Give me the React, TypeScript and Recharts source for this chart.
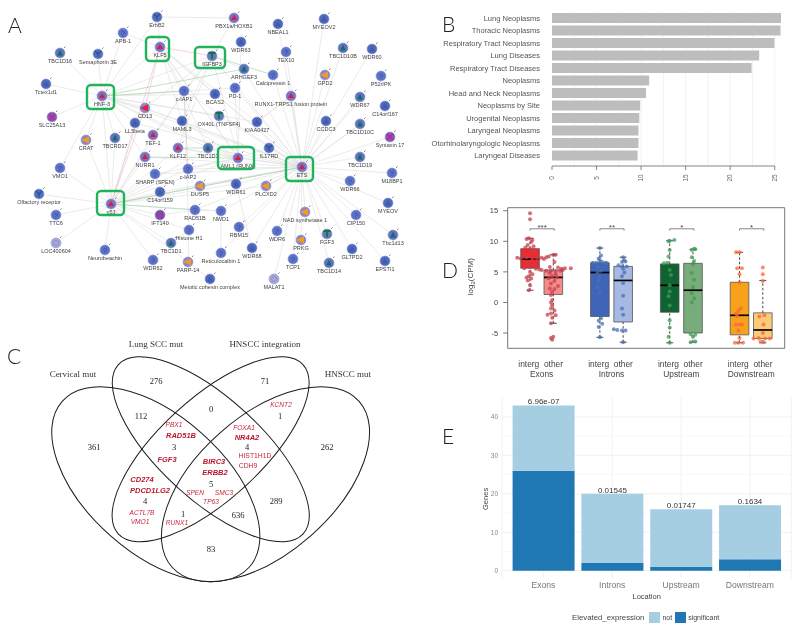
import React from 'react';
import {
  ScatterChart, Scatter, BarChart, Bar, XAxis, YAxis, CartesianGrid, ReferenceLine, ReferenceArea, LabelList, Legend,
} from 'recharts';

const SANS = '"Liberation Sans", Arial, sans-serif';
const SERIF = '"Liberation Serif", "Times New Roman", serif';

/* ---------- Panel A: network ---------- */
const networkNodes: [string, number, number, string][] = [
  ['ErbB2', 157, 17, 'y'], ['PBX1a/HOXB1', 234, 18, 'r'], ['APB-1', 123, 33, 'b'], ['NBEAL1', 278, 24, 'a'],
  ['MYEOV2', 324, 19, 'a'], ['KLF5', 160, 47, 'r'], ['IGFBP3', 212, 56, 'g'], ['WDR63', 241, 42, 'a'],
  ['TBC1D16', 60, 53, 't'], ['Semaphorin 3E', 98, 54, 'y'], ['TEX10', 286, 52, 'b'], ['TBC1D10B', 343, 48, 't'],
  ['WDR60', 372, 49, 'a'], ['ARHGEF3', 244, 69, 't'], ['Calcipressin 1', 273, 75, 'b'], ['GPD2', 325, 75, 'o'],
  ['P52rIPK', 381, 76, 'b'], ['Tctex1d1', 46, 84, 'a'], ['HNF-3', 102, 96, 'r'], ['c-IAP1', 184, 91, 'b'],
  ['BCAS2', 215, 94, 'a'], ['PD-1', 235, 88, 'b'], ['RUNX1-TRPS1 fusion protein', 291, 96, 'r'], ['WDR67', 360, 97, 't'],
  ['C14orf167', 385, 106, 'a'], ['SLC25A13', 52, 117, 'x'], ['CD13', 145, 108, 'c'], ['LL5beta', 135, 123, 'a'],
  ['OX40L (TNFSF4)', 219, 116, 'g'], ['MAML3', 182, 121, 'a'], ['KIAA0427', 257, 122, 'a'], ['CCDC3', 326, 121, 'a'],
  ['TBC1D10C', 360, 124, 't'], ['TEF-1', 153, 135, 'r'], ['CRAT', 86, 140, 'o'], ['TBCRD17', 115, 138, 't'],
  ['Syntaxin 17', 390, 137, 'x'], ['KLF12', 178, 148, 'r'], ['TBC1D1', 208, 148, 't'], ['AML1 (RUNX)', 238, 158, 'r'],
  ['IL17RD', 269, 148, 'y'], ['NURR1', 145, 157, 'r'], ['ETS', 302, 167, 'r'], ['TBC1D19', 360, 157, 't'],
  ['VMO1', 60, 168, 'b'], ['SHARP (SPEN)', 155, 174, 'b'], ['c-IAP2', 188, 169, 'b'], ['M18BP1', 392, 173, 'b'],
  ['WDR66', 350, 181, 'b'], ['DUSP5', 200, 186, 'o'], ['WDR61', 236, 184, 'a'], ['PLCXD2', 266, 186, 'o'],
  ['C14orf159', 160, 192, 'a'], ['Olfactory receptor', 39, 194, 'y'], ['p53', 111, 204, 'r'], ['MYEOV', 388, 203, 'a'],
  ['IFT140', 160, 215, 'h'], ['RAD51B', 195, 210, 'b'], ['NWD1', 221, 211, 'b'], ['NAD synthetase 1', 305, 212, 'o'],
  ['CIP150', 356, 215, 'b'], ['TTC6', 56, 215, 'b'], ['Histone H1', 189, 230, 'b'], ['RBM15', 239, 227, 'b'],
  ['WDR6', 277, 231, 'b'], ['FGF3', 327, 234, 'g'], ['Tbc1d13', 393, 235, 't'], ['LOC400604', 56, 243, 'p'],
  ['TBC1D1 ', 171, 243, 't'], ['PRKG', 301, 240, 'o'], ['Neurobeachin', 105, 250, 'b'], ['WDR62', 153, 260, 'b'],
  ['Reticulocalbin 1', 221, 253, 'b'], ['WDR68', 252, 248, 'a'], ['GLTPD2', 352, 249, 'a'], ['TCP1', 293, 259, 'b'],
  ['EPSTI1', 385, 261, 'a'], ['TBC1D14', 329, 263, 't'], ['PARP-14', 188, 262, 'o'], ['Meiotic cohesin complex', 210, 279, 'a'],
  ['MALAT1', 274, 279, 'p'],
];
const etsLinks = ['MYEOV2', 'NBEAL1', 'TEX10', 'TBC1D10B', 'WDR60', 'GPD2', 'P52rIPK', 'WDR67', 'C14orf167', 'CCDC3', 'TBC1D10C', 'Syntaxin 17', 'TBC1D19', 'M18BP1', 'WDR66', 'MYEOV', 'CIP150', 'Tbc1d13', 'EPSTI1', 'GLTPD2', 'TBC1D14', 'FGF3', 'PRKG', 'NAD synthetase 1', 'TCP1', 'MALAT1', 'WDR6', 'WDR68', 'RBM15', 'Calcipressin 1', 'RUNX1-TRPS1 fusion protein', 'PD-1', 'KIAA0427', 'IL17RD', 'AML1 (RUNX)', 'PLCXD2', 'WDR61', 'DUSP5', 'c-IAP2', 'KLF12', 'TBC1D1', 'NURR1', 'HNF-3', 'KLF5', 'IGFBP3', 'ARHGEF3', 'BCAS2', 'MAML3', 'LL5beta', 'CD13', 'OX40L (TNFSF4)', 'c-IAP1', 'NWD1', 'RAD51B', 'Reticulocalbin 1', 'p53', 'SHARP (SPEN)', 'C14orf159'];
const p53Links = ['CRAT', 'TBCRD17', 'VMO1', 'Olfactory receptor', 'TTC6', 'LOC400604', 'Neurobeachin', 'WDR62', 'TBC1D1 ', 'PARP-14', 'Histone H1', 'NWD1', 'IFT140', 'C14orf159', 'DUSP5', 'WDR61', 'PLCXD2', 'c-IAP2', 'SHARP (SPEN)', 'AML1 (RUNX)', 'KLF12', 'NURR1', 'TEF-1', 'LL5beta', 'TBC1D1', 'c-IAP1'];
const hnfLinks = ['Tctex1d1', 'TBC1D16', 'Semaphorin 3E', 'APB-1', 'ErbB2', 'KLF5', 'IGFBP3', 'SLC25A13', 'CRAT', 'VMO1', 'TBCRD17', 'p53', 'CD13', 'LL5beta', 'MAML3', 'KIAA0427', 'AML1 (RUNX)', 'NURR1', 'TBC1D1', 'BCAS2', 'PD-1', 'OX40L (TNFSF4)'];
const klfLinks = ['ErbB2', 'APB-1', 'AML1 (RUNX)', 'c-IAP1', 'MAML3', 'TBC1D1', 'BCAS2', 'KIAA0427'];
const igfLinks = ['PBX1a/HOXB1', 'c-IAP1', 'CD13', 'ARHGEF3', 'TEF-1', 'KLF12', 'MAML3'];
const amlLinks = ['KLF5', 'PD-1', 'WDR63', 'KLF12', 'TBC1D1', 'IL17RD', 'IGFBP3', 'c-IAP2', 'SHARP (SPEN)', 'MAML3'];
const otherLinks: [string, string][] = [['ErbB2', 'PBX1a/HOXB1'], ['RAD51B', 'IFT140'], ['Histone H1', 'PARP-14'], ['Meiotic cohesin complex', 'PARP-14'], ['NWD1', 'Reticulocalbin 1'], ['Histone H1', 'c-IAP1'], ['Histone H1', 'TBC1D1 '], ['RAD51B', 'NWD1'], ['WDR61', 'WDR68']];
const redLinks: [string, string][] = [['KLF5', 'IGFBP3'], ['KLF5', 'CD13'], ['p53', 'KLF5'], ['p53', 'CD13'], ['KIAA0427', 'RUNX1-TRPS1 fusion protein'], ['c-IAP1', 'c-IAP2']];
const greenLinks: [string, string][] = [['HNF-3', 'c-IAP1'], ['HNF-3', 'ARHGEF3'], ['IGFBP3', 'Calcipressin 1'], ['AML1 (RUNX)', 'NURR1'], ['p53', 'RAD51B'], ['p53', 'ETS'], ['TBC1D1', 'KLF12']];
const hubBoxes = [
  { x1: 146, x2: 169, y1: 37, y2: 61 }, { x1: 195, x2: 225, y1: 47, y2: 68 }, { x1: 87, x2: 114, y1: 85, y2: 109 },
  { x1: 218, x2: 254, y1: 147, y2: 169 }, { x1: 286, x2: 313, y1: 157, y2: 181 }, { x1: 97, x2: 124, y1: 191, y2: 215 },
];
const nodeData = networkNodes.map(([name, x, y, kind]) => ({ name, x, y, kind }));
const nodeAt = new Map(nodeData.map((n) => [n.name, n]));

function NodeShape(p: any) {
  const { cx, cy, payload } = p;
  const k = payload.kind;
  const bodies: Record<string, string> = { b: '#5d72c6', a: '#5068b8', y: '#4f6fbe', r: '#7a70c4', t: '#5f74b8', g: '#5f7cb8', o: '#8b86c8', c: '#8b86c8', x: '#8a58b0', h: '#7a50ac', p: '#a6a6d8' };
  let glyph: React.ReactNode = null;
  if (k === 'r') glyph = <path d={`M${cx - 3} ${cy + 2}L${cx} ${cy - 3}L${cx + 3} ${cy + 2}Z`} fill="#d3203c" />;
  if (k === 't') glyph = <path d={`M${cx - 2.8} ${cy + 2.5}L${cx} ${cy - 3.2}L${cx + 2.8} ${cy + 2.5}Z`} fill="#176a6e" />;
  if (k === 'a') glyph = <path d={`M${cx - 3} ${cy + 2.5}L${cx} ${cy - 3}L${cx + 3} ${cy + 2.5}Z`} fill="#3c5cb0" />;
  if (k === 'o') glyph = <path d={`M${cx - 5} ${cy}L${cx + 3} ${cy - 3.5}L${cx + 3} ${cy + 3.5}Z`} fill="#f59a23" />;
  if (k === 'c') glyph = <path d={`M${cx - 5} ${cy}L${cx + 3} ${cy - 3.5}L${cx + 3} ${cy + 3.5}Z`} fill="#e8203a" />;
  if (k === 'g') glyph = <path d={`M${cx - 3.5} ${cy - 3}H${cx + 3.5}M${cx} ${cy - 3}V${cy + 3}`} stroke="#156f4c" strokeWidth={1.8} fill="none" />;
  if (k === 'y') glyph = <path d={`M${cx - 3} ${cy - 3}L${cx} ${cy}L${cx + 3} ${cy - 3}M${cx} ${cy}V${cy + 3}`} stroke="#2c4c90" strokeWidth={1.1} fill="none" />;
  if (k === 'x') glyph = <path d={`M${cx - 3} ${cy - 3}L${cx + 3} ${cy + 3}M${cx + 3} ${cy - 3}L${cx - 3} ${cy + 3}`} stroke="#c0209a" strokeWidth={1.1} fill="none" />;
  if (k === 'h') glyph = <path d={`M${cx - 2} ${cy - 3}V${cy + 3}M${cx + 2} ${cy - 3}V${cy + 3}M${cx - 2} ${cy}H${cx + 2}`} stroke="#b03090" strokeWidth={1} fill="none" />;
  if (k === 'b') glyph = <text x={cx} y={cy + 2.5} textAnchor="middle" fontSize={7} fontFamily={SANS} fill="#2f4596">?</text>;
  if (k === 'p') glyph = <circle cx={cx} cy={cy} r={2.5} fill="none" stroke="#8080c0" strokeWidth={0.6} />;
  return (
    <g>
      <circle cx={cx} cy={cy} r={5} fill={bodies[k]} stroke="#8d9bd8" strokeWidth={0.6} />
      {glyph}
      <path d={`M${cx + 4} ${cy - 5}l1.5 -1.5`} stroke="#555" strokeWidth={0.7} />
      <text x={cx} y={cy + 10} textAnchor="middle" fontSize={5.5} fontFamily={SANS} fill="#3f3f3f">{payload.name.trim()}</text>
    </g>
  );
}

const edge = (a: string, b: string, color: string, key: string) => {
  const s = nodeAt.get(a)!;
  const t = nodeAt.get(b)!;
  return <ReferenceLine key={key} segment={[{ x: s.x, y: s.y }, { x: t.x, y: t.y }]} stroke={color} strokeWidth={0.6} />;
};

function NetworkPanel() {
  const groups: [string, string[]][] = [['ETS', etsLinks], ['p53', p53Links], ['HNF-3', hnfLinks], ['KLF5', klfLinks], ['IGFBP3', igfLinks], ['AML1 (RUNX)', amlLinks]];
  return (
    <ScatterChart width={430} height={320} margin={{ top: 0, right: 0, bottom: 0, left: 0 }}>
      <XAxis type="number" dataKey="x" domain={[0, 430]} hide />
      <YAxis type="number" dataKey="y" domain={[0, 320]} reversed hide />
      {groups.flatMap(([hub, list]) => list.map((n) => edge(hub, n, '#dedede', hub + n)))}
      {otherLinks.map(([a, b]) => edge(a, b, '#dedede', a + b))}
      {redLinks.map(([a, b]) => edge(a, b, '#e8bcbc', 'r' + a + b))}
      {greenLinks.map(([a, b]) => edge(a, b, '#9ccf9c', 'g' + a + b))}
      <Scatter data={nodeData} shape={NodeShape} isAnimationActive={false} />
      {hubBoxes.map((b, i) => (
        <ReferenceArea key={i} {...b} fill="none" fillOpacity={0} stroke="#1fb45c" strokeWidth={2.4} radius={4} ifOverflow="visible" zIndex={700} />
      ))}
    </ScatterChart>
  );
}

/* ---------- Panel B: bars ---------- */
const diseaseTerms = ['Lung Neoplasms', 'Thoracic Neoplasms', 'Respiratory Tract Neoplasms', 'Lung Diseases', 'Respiratory Tract Diseases', 'Neoplasms', 'Head and Neck Neoplasms', 'Neoplasms by Site', 'Urogenital Neoplasms', 'Laryngeal Neoplasms', 'Otorhinolaryngologic Neoplasms', 'Laryngeal Diseases'];
const diseaseScores = [25.7, 25.65, 24.96, 23.25, 22.4, 10.9, 10.55, 9.9, 9.8, 9.7, 9.7, 9.6];
const diseaseTicks = [0, 5, 10, 15, 20, 25];
const diseaseGrid = [2.5, 5, 7.5, 10, 12.5, 15, 17.5, 20, 22.5, 25];
const diseaseData = diseaseTerms.map((term, i) => ({ term, score: diseaseScores[i] }));

function RotatedTick(p: any) {
  const { x, y, payload, index } = p;
  return (
    <g>
      {index < 5 && <line x1={x} x2={x + 44.55} y1={y - 4} y2={y - 4} stroke="#666" strokeWidth={0.8} />}
      <text transform={`translate(${x + 2},${y + 8}) rotate(-90)`} textAnchor="middle" fontSize={6.5} fontFamily={SANS} fill="#666">{payload.value}</text>
    </g>
  );
}
const TermTick = (p: any) => (
  <text x={p.x} y={p.y + 2.6} textAnchor="end" fontSize={7.5} fontFamily={SANS} fill="#555">{p.payload.value}</text>
);

function DiseasePanel() {
  return (
    <BarChart width={370} height={200} layout="vertical" data={diseaseData} barCategoryGap="8.5%" margin={{ top: 12, right: 19, bottom: 0, left: 0 }}>
      <CartesianGrid horizontal={false} verticalValues={diseaseGrid} stroke="#efefef" strokeWidth={0.8} />
      <XAxis type="number" domain={[0, 25.7]} ticks={diseaseTicks} height={34} axisLine={false} tickSize={4} tickMargin={0} tickLine={{ stroke: '#666', strokeWidth: 0.8 }} tick={RotatedTick} interval={0} />
      <YAxis type="category" dataKey="term" width={122} axisLine={false} tickLine={false} tickMargin={12} tickSize={0} padding={{ top: 0, bottom: 4 }} interval={0} tick={TermTick} />
      <Bar dataKey="score" fill="#bdbdbd" isAnimationActive={false} />
    </BarChart>
  );
}

/* ---------- Panel C: Venn ---------- */
const outerAxes = { rx: 125, ry: 68.6, tilt: 41.5 };
const innerAxes = { rx: 125.3, ry: 50.7, tilt: 42.5 };
const vennSets = [
  { name: 'Cervical mut', x: 155.8, y: 144.2, ...outerAxes },
  { name: 'HNSCC mut', x: 265.5, y: 144.2, ...outerAxes, tilt: -outerAxes.tilt },
  { name: 'Lung SCC mut', x: 210.8, y: 109.2, ...innerAxes },
  { name: 'HNSCC integration', x: 210.6, y: 109.2, ...innerAxes, tilt: -innerAxes.tilt },
];
const vennTitles: [string, number, number][] = [['Lung SCC mut', 156, 4], ['HNSCC integration', 265, 4], ['Cervical mut', 73, 34], ['HNSCC mut', 348, 34]];
const vennCounts: [string, number, number][] = [['361', 94, 107], ['276', 156, 41], ['71', 265, 41], ['262', 327, 107], ['112', 141, 76], ['0', 211, 69], ['1', 280, 76], ['3', 174, 107], ['4', 247, 107], ['5', 211, 144], ['4', 145, 161], ['289', 276, 161], ['1', 183, 174], ['636', 238, 175], ['83', 211, 209]];
const vennGenesPlain: [string, number, number][] = [['PBX1', 174, 84], ['ACTL7B', 142, 172], ['VMO1', 140, 181], ['RUNX1', 177, 182], ['SPEN', 195, 152], ['SMC3', 224, 152], ['TP63', 211, 161], ['KCNT2', 281, 64], ['FOXA1', 244, 87]];
const vennGenesBold: [string, number, number][] = [['RAD51B', 181, 95], ['FGF3', 167, 119], ['CD274', 142, 139], ['PDCD1LG2', 150, 150], ['BIRC3', 214, 121], ['ERBB2', 215, 132], ['NR4A2', 247, 97]];
const vennGenesUpright: [string, number, number][] = [['HIST1H1D', 255, 115], ['CDH9', 248, 125]];

const toPts = (rows: [string, number, number][]) => rows.map(([label, x, y]) => ({ label, x, y }));
const textShape = (style: any) => (p: any) => (
  <text x={p.cx} y={p.cy} textAnchor="middle" dominantBaseline="central" {...style}>{p.payload.label}</text>
);
const EllipseShape = (p: any) => (
  <ellipse cx={p.cx} cy={p.cy} rx={p.payload.rx} ry={p.payload.ry} transform={`rotate(${p.payload.tilt} ${p.cx} ${p.cy})`} fill="none" stroke="#1c1c1c" strokeWidth={1} />
);

function VennPanel() {
  return (
    <ScatterChart width={430} height={292} margin={{ top: 0, right: 0, bottom: 0, left: 0 }}>
      <XAxis type="number" dataKey="x" domain={[0, 430]} hide />
      <YAxis type="number" dataKey="y" domain={[0, 292]} reversed hide />
      <Scatter data={vennSets} shape={EllipseShape} isAnimationActive={false} />
      <Scatter data={toPts(vennTitles)} shape={textShape({ fontSize: 9, fontFamily: SERIF, fill: '#333' })} isAnimationActive={false} />
      <Scatter data={toPts(vennCounts)} shape={textShape({ fontSize: 8.5, fontFamily: SERIF, fill: '#222' })} isAnimationActive={false} />
      <Scatter data={toPts(vennGenesPlain)} shape={textShape({ fontSize: 6.6, fontFamily: SANS, fontStyle: 'italic', fill: '#c8283c' })} isAnimationActive={false} />
      <Scatter data={toPts(vennGenesBold)} shape={textShape({ fontSize: 7.5, fontFamily: SANS, fontStyle: 'italic', fontWeight: 700, fill: '#b81830' })} isAnimationActive={false} />
      <Scatter data={toPts(vennGenesUpright)} shape={textShape({ fontSize: 6.8, fontFamily: SANS, fill: '#c8283c' })} isAnimationActive={false} />
    </ScatterChart>
  );
}

/* ---------- Panel D: box plots ---------- */
const regionNames = ['Exons', 'Introns', 'Upstream', 'Downstream'];
const regionTicks = [1.5, 4.5, 7.5, 10.5];
const boxPositions = [1, 2, 4, 5, 7, 8, 10, 11];
const boxLow = [2, -3.4, -5.7, -6.5, -6.6, -6.5, -6.6, -6.6];
const boxQ1 = [5.6, 1.3, -2.3, -3.2, -1.6, -5.0, -5.3, -5.9];
const boxMedian = [7.1, 4.1, 4.9, 3.6, 2.8, 2.0, -2.1, -4.5];
const boxQ3 = [8.8, 5.3, 6.5, 5.9, 6.3, 6.4, 3.3, -1.7];
const boxHigh = [10.5, 7.8, 8.9, 7.4, 10.1, 8.7, 8.2, 3.6];
const boxFills = ['#ee2a2e', '#f58c8c', '#3f65b8', '#a6b9e2', '#0f6232', '#78ac7a', '#f9a11b', '#fdcb77'];
const bracketSpans: [number, number][] = [[1, 2.04], [4, 5.04], [7, 8.04], [10, 11.04]];
const bracketStars = ['***', '**', '*', '*'];

const exonPoints: [number, number][] = [[1, 14.6], [1, 13.6], [0.95, 10.5], [1.1, 10.2], [0.85, 10.4], [1.05, 9.9], [0.9, 9.4], [1.15, 9.2], [0.8, 9], [1, 8.8], [1.2, 8.6], [0.7, 7.5], [0.45, 7.3], [0.6, 7.2], [0.85, 7.4], [1.1, 7.1], [1.3, 7.2], [1.5, 7.3], [1.7, 7.4], [0.9, 6.5], [1.2, 6.3], [1, 5.8], [0.75, 5.6], [1.25, 5.5], [1.4, 5.4], [1, 5], [1.1, 4.6], [0.95, 4.3], [0.85, 4.1], [1.05, 3.9], [0.9, 3.6], [1, 2.8], [0.95, 2],
  [2, 7.8], [2.1, 7.8], [1.8, 7.5], [1.6, 7.1], [2.05, 6.6], [1.85, 5.8], [2.2, 5.7], [2.5, 5.6], [2.75, 5.6], [2.35, 5.5], [1.5, 5.3], [1.7, 5.2], [1.9, 5.2], [2.1, 5.1], [2.3, 5.2], [2.4, 5.3], [1.85, 4.8], [2.1, 4.6], [1.95, 4.3], [2.15, 4.1], [1.8, 3.9], [2.05, 3.5], [1.9, 3.1], [2.2, 2.7], [1.85, 2.3], [2.05, 2.2], [1.95, 1.7], [1.9, 1.2], [1.95, 0.4], [1.9, 0], [1.95, -0.5], [1.9, -1], [2.05, -1.3], [1.9, -1.8], [1.75, -2], [2.1, -2.1], [1.95, -2.5], [1.9, -3.4], [2, -5.6], [1.9, -5.8], [1.95, -6.1]];
const intronPoints: [number, number][] = [[4, 8.9], [4.05, 7.7], [3.95, 7.2], [4, 6.9], [3.7, 6.5], [3.85, 6.5], [4.1, 6.6], [4.25, 6.5], [4.3, 6.4], [3.95, 5.8], [4.05, 5.2], [3.9, 4.9], [4, 4.2], [3.95, 3.5], [3.9, 2.5], [4, 1.6], [4.05, -2.6], [3.95, -3], [4.1, -3.5], [3.95, -4], [4, -5.7],
  [5, 7.4], [5.05, 6.9], [4.95, 6.6], [5.1, 6.7], [4.8, 6.1], [4.95, 5.9], [5.15, 5.9], [5, 5.5], [5.05, 4.9], [4.95, 4.3], [5, 3.2], [5, 1.1], [4.95, -1], [5, -2], [4.6, -4.4], [4.75, -4.5], [4.95, -4.6], [5.1, -4.6], [5, -6.5]];
const upstreamPoints: [number, number][] = [[7, 10.1], [6.95, 10], [7.2, 10.2], [7, 8.6], [6.95, 7.5], [6.9, 6.5], [6.75, 6.4], [7, 5.3], [7.05, 4.5], [7, 2.8], [7, 1.8], [6.95, 1], [7, -0.5], [7, -2.9], [7, -4.1], [6.95, -5.6], [7, -6.6],
  [8.05, 8.8], [7.95, 8.6], [8.1, 8.7], [7.95, 7.4], [8.05, 6.8], [8, 6.3], [7.95, 4.8], [8.05, 3.7], [8, 2.5], [7.95, 1.5], [8.05, 0.7], [7.95, 0], [7.9, -5.2], [8.1, -5.3], [8, -5.6], [7.9, -6.5], [8.1, -6.4]];
const downstreamPoints: [number, number][] = [[9.85, 8.2], [10, 8.2], [9.9, 5.6], [10.1, 5.6], [10, 4.6], [10, 3.3], [10.05, -1], [9.95, -1.4], [9.85, -1.8], [9.9, -2.2], [10, -3.6], [9.85, -3.6], [10.1, -3.6], [9.95, -4.6], [10, -5.8], [9.8, -6.6], [9.95, -6.6], [10.15, -6.6],
  [11, 5.7], [11, 4.6], [11, 3.5], [11.07, -2.1], [10.85, -2.3], [11.03, -3.6], [11, -5], [10.6, -5.9], [10.82, -5.8], [11.1, -5.9], [11.3, -5.9], [10.9, -6.4], [11.03, -6.5]];
const pts = (rows: [number, number][]) => rows.map(([x, y]) => ({ x, y }));

const dotShape = (fill: string) => (p: any) => <circle cx={p.cx} cy={p.cy} r={2} fill={fill} fillOpacity={0.75} />;

function RegionTick(p: any) {
  const { x, y, index } = p;
  return (
    <text textAnchor="middle" fontSize={8.4} fontFamily={SANS} fill="#444">
      <tspan x={x - 1} y={y + 11}>{'interg\u00a0\u00a0other'}</tspan>
      <tspan x={x} y={y + 21}>{regionNames[index]}</tspan>
    </text>
  );
}
const CpmLabel = (p: any) => {
  const cx = p.viewBox.x + 43;
  const cy = p.viewBox.y + 69;
  return (
    <text transform={`translate(${cx},${cy}) rotate(-90)`} textAnchor="middle" fontSize={8} fontFamily={SANS} fill="#444">
      log<tspan dy={2} fontSize={6}>2</tspan><tspan dy={-2}>(CPM)</tspan>
    </text>
  );
};

function BoxPanel() {
  const line = (key: string, x1: number, y1: number, x2: number, y2: number, extra: any) => (
    <ReferenceLine key={key} segment={[{ x: x1, y: y1 }, { x: x2, y: y2 }]} {...extra} />
  );
  const dashed = { stroke: '#333', strokeWidth: 0.9, strokeDasharray: '2.5 2' };
  return (
    <ScatterChart width={370} height={205} margin={{ top: 12.7, right: 15.3, bottom: 0, left: 0 }}>
      <XAxis type="number" dataKey="x" domain={[0.04, 11.94]} ticks={regionTicks} interval={0} height={51.7} axisLine={false} tickLine={false} tick={RegionTick} />
      <YAxis type="number" dataKey="y" domain={[-7.5, 15.5]} ticks={[-5, 0, 5, 10, 15]} interval={0} width={77.7} axisLine={false} tickSize={4.5} tickMargin={5} tickLine={{ stroke: '#777' }} tick={{ fontSize: 7.5, fontFamily: SANS, fill: '#444' }} label={<CpmLabel />} />
      <ReferenceArea x1={0.04} x2={11.94} y1={-7.5} y2={15.5} fill="none" fillOpacity={0} stroke="#777" strokeWidth={1} ifOverflow="visible" />
      {boxPositions.map((x, i) => line('wa' + i, x, boxLow[i], x, boxQ1[i], dashed))}
      {boxPositions.map((x, i) => line('wb' + i, x, boxQ3[i], x, boxHigh[i], dashed))}
      {boxPositions.map((x, i) => line('wl' + i, x - 0.15, boxLow[i], x + 0.15, boxLow[i], { stroke: '#333', strokeWidth: 0.9 }))}
      {boxPositions.map((x, i) => line('wh' + i, x - 0.15, boxHigh[i], x + 0.15, boxHigh[i], { stroke: '#333', strokeWidth: 0.9 }))}
      {boxPositions.map((x, i) => (
        <ReferenceArea key={'b' + i} x1={x - 0.4} x2={x + 0.4} y1={boxQ1[i]} y2={boxQ3[i]} fill={boxFills[i]} fillOpacity={1} stroke="#555" strokeWidth={0.8} />
      ))}
      {boxPositions.map((x, i) => line('m' + i, x - 0.4, boxMedian[i], x + 0.4, boxMedian[i], { stroke: '#000', strokeWidth: 1.7 }))}
      {bracketSpans.map(([a, b], i) => line('br' + i, a, 12.05, b, 12.05, { stroke: '#555', strokeWidth: 0.7 }))}
      {bracketSpans.map(([a], i) => line('bl' + i, a, 12.05, a, 11.75, { stroke: '#555', strokeWidth: 0.7 }))}
      {bracketSpans.map(([, b], i) => line('bm' + i, b, 12.05, b, 11.75, { stroke: '#555', strokeWidth: 0.7 }))}
      <Scatter data={pts(exonPoints)} shape={dotShape('#c4404e')} isAnimationActive={false} />
      <Scatter data={pts(intronPoints)} shape={dotShape('#4a70b4')} isAnimationActive={false} />
      <Scatter data={pts(upstreamPoints)} shape={dotShape('#3f9c54')} isAnimationActive={false} />
      <Scatter data={pts(downstreamPoints)} shape={dotShape('#f4683c')} isAnimationActive={false} />
      <Scatter data={bracketSpans.map(([a, b], i) => ({ x: (a + b) / 2, y: 12.2, label: bracketStars[i] }))} shape={textShape({ fontSize: 8, fontFamily: SANS, fill: '#444' })} isAnimationActive={false} />
    </ScatterChart>
  );
}

/* ---------- Panel E: stacked bars ---------- */
const locations = ['Exons', 'Introns', 'Upstream', 'Downstream'];
const significantGenes = [26, 2, 1, 3];
const otherGenes = [17, 18, 15, 14];
const pValues = ['6.96e-07', '0.01545', '0.01747', '0.1634'];
const locationData = locations.map((location, i) => ({ location, significant: significantGenes[i], not: otherGenes[i], p: pValues[i] }));
const majorGenes = [0, 10, 20, 30, 40];
const minorGenes = [5, 15, 25, 35];

const swatch = (fill: string) => <span style={{ display: 'inline-block', width: 11, height: 11, background: fill }} />;
const GeneLegend = () => (
  <div style={{ display: 'flex', alignItems: 'center', fontFamily: SANS, fontSize: 7, color: '#444', height: 16 }}>
    <span style={{ marginRight: 5, fontSize: 7.8, whiteSpace: 'nowrap' }}>Elevated_expression</span>
    {swatch('#a6cee3')}<span style={{ margin: '0 3px 0 2px' }}>not</span>
    {swatch('#1f78b4')}<span style={{ marginLeft: 2 }}>significant</span>
  </div>
);

function GenesPanel() {
  return (
    <BarChart width={370} height={237} data={locationData} barCategoryGap="5.2%" margin={{ top: 2.7, right: 8.7, bottom: 0, left: 0 }}>
      <CartesianGrid vertical={false} horizontalValues={minorGenes} stroke="#f6f6f6" strokeWidth={0.7} />
      <CartesianGrid horizontalValues={majorGenes} stroke="#eeeeee" strokeWidth={0.8} />
      <XAxis dataKey="location" height={34} padding={{ left: 7, right: 7 }} axisLine={false} tickLine={false} tickMargin={0} interval={0} tick={{ fontSize: 8.6, fontFamily: SANS, fill: '#777', dy: -2 }} label={{ value: 'Location', position: 'insideBottom', offset: 13, fontSize: 7.5, fontFamily: SANS, fill: '#444' }} />
      <YAxis type="number" domain={[-1.9, 45]} ticks={majorGenes} interval={0} width={72} axisLine={false} tickLine={false} tickSize={0} tickMargin={4} tick={{ fontSize: 6.5, fontFamily: SANS, fill: '#888' }} label={{ value: 'Genes', angle: -90, position: 'insideRight', dx: -12, fontSize: 7.5, fontFamily: SANS, fill: '#444' }} />
      <Legend content={<GeneLegend />} wrapperStyle={{ height: 20, width: 'auto', left: 142, bottom: 3 }} />
      <Bar dataKey="significant" stackId="g" fill="#1f78b4" isAnimationActive={false} />
      <Bar dataKey="not" stackId="g" fill="#a6cee3" isAnimationActive={false}>
        <LabelList dataKey="p" position="top" offset={1} style={{ fontSize: 8, fontFamily: SANS, fill: '#333' }} />
      </Bar>
    </BarChart>
  );
}

/* ---------- Page ---------- */
const panelLetters: [string, number, number][] = [['A', 8, 14], ['B', 442, 13], ['C', 7, 345], ['D', 442, 259], ['E', 442, 425]];
const place = (left: number, top: number): React.CSSProperties => ({ position: 'absolute', left, top });

export default function App() {
  return (
    <div style={{ position: 'absolute', left: 0, top: 0, width: 800, height: 632, background: '#fff', overflow: 'hidden', filter: 'blur(0.35px)' }}>
      <div style={place(0, 0)}><NetworkPanel /></div>
      <div style={place(430, 0)}><DiseasePanel /></div>
      <div style={place(0, 340)}><VennPanel /></div>
      <div style={place(430, 195)}><BoxPanel /></div>
      <div style={place(430, 395)}><GenesPanel /></div>
      {panelLetters.map(([t, x, y]) => (
        <div key={t} style={{ ...place(x, y), fontFamily: 'Lato, "Liberation Sans", sans-serif', fontWeight: 300, fontSize: 21, lineHeight: '21px', color: '#222' }}>{t}</div>
      ))}
    </div>
  );
}
